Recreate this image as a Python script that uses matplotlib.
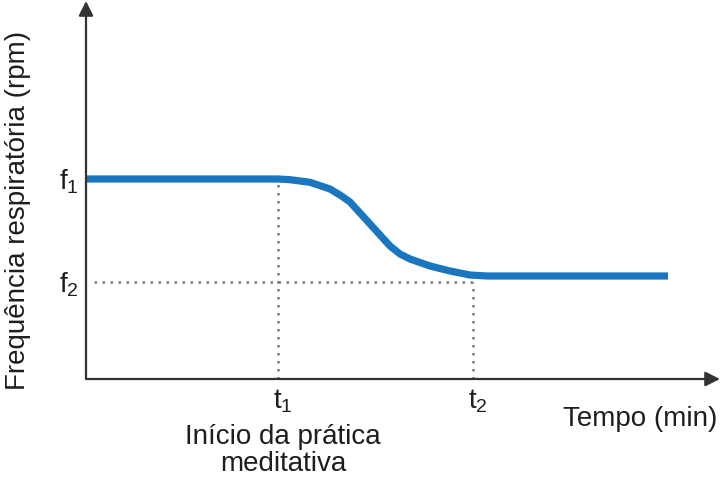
import matplotlib
matplotlib.use("Agg")
from matplotlib import pyplot as plt

# curve (x: time units, y: rpm units, origin at the axes corner)
tempo = [0, 192, 204, 224, 244, 254, 264, 274, 284, 294, 304, 314, 324, 344, 364, 384, 401, 582]
freq = [200, 200, 199.3, 196.7, 190, 184, 177, 166, 155, 144, 133, 125, 120, 113, 108, 104, 103, 103]

t_marks = [192, 387]
t_labels = ["t_1", "t_2"]
f_marks = [200, 97]
f_labels = ["f_1", "f_2"]

BLUE = "#1a76be"
AXIS = "#333333"
DOT = "#7a7a7a"
TXT = "#1e1e1e"


def main():
    plt.rcParams["font.family"] = ["Liberation Sans", "DejaVu Sans"]
    plt.rcParams["mathtext.fontset"] = "custom"
    plt.rcParams["mathtext.rm"] = "Liberation Sans"

    fig = plt.figure(figsize=(7.23, 4.89), dpi=100)
    W, H = 723, 489
    x0, y0 = 86, 380
    ax = fig.add_axes([x0 / W, (H - y0) / H, (720 - x0) / W, (y0 - 2) / H])
    ax.set_xlim(0, 720 - x0)
    ax.set_ylim(0, y0 - 2)
    ax.set_axis_off()

    # axes with arrow heads
    arrow = dict(arrowstyle="-|>", color=AXIS, lw=1.6, mutation_scale=22, shrinkA=0, shrinkB=0)
    ax.annotate("", xy=(1, 0), xytext=(0, 0), xycoords="axes fraction", arrowprops=arrow)
    ax.annotate("", xy=(0, 1), xytext=(0, 0), xycoords="axes fraction", arrowprops=arrow)

    # guide lines
    dots = dict(ls=(0, (1, 2.2)), color=DOT, lw=1.8)
    ax.plot([t_marks[0], t_marks[0]], [0, f_marks[0]], **dots)
    ax.plot([t_marks[1], t_marks[1]], [0, f_marks[1]], **dots)
    ax.plot([8, t_marks[1]], [f_marks[1], f_marks[1]], **dots)

    ax.plot(tempo, freq, color=BLUE, lw=5.2, solid_capstyle="butt", solid_joinstyle="round")

    for t, lab in zip(t_marks, t_labels):
        ax.text(t + 5, -8, r"$\mathregular{%s}$" % lab, ha="center", va="top",
                fontsize=20, color=TXT, clip_on=False)
    for f, lab in zip(f_marks, f_labels):
        ax.text(-7, f - 2, r"$\mathregular{%s}$" % lab, ha="right", va="center",
                fontsize=20, color=TXT, clip_on=False)

    ax.text(t_marks[0] + 5, -44, "Início da prática\nmeditativa", ha="center", va="top",
            fontsize=20, color=TXT, linespacing=1.05, clip_on=False)
    ax.text(631, -26, "Tempo (min)", ha="right", va="top",
            fontsize=20, color=TXT, clip_on=False)
    fig.text(18 / W, 1 - 210 / H, "Frequência respiratória (rpm)", rotation=90,
             ha="center", va="center", fontsize=20, color=TXT)

    fig.savefig("out.png", dpi=100, facecolor="white")


if __name__ == "__main__":
    main()
